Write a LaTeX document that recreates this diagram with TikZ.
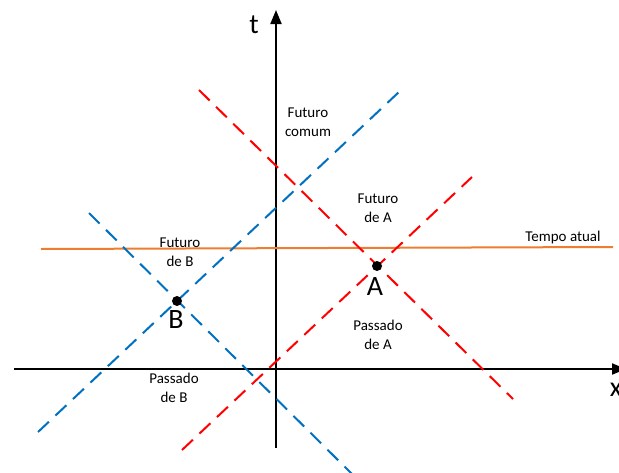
\documentclass[tikz,border=0pt]{standalone}
\usepackage{fontspec}
\setmainfont{Carlito}
\usetikzlibrary{arrows.meta}

\definecolor{conered}{RGB}{255,0,0}
\definecolor{coneblue}{RGB}{0,112,192}
\definecolor{noworange}{RGB}{237,125,49}

\begin{document}
\begin{tikzpicture}[x=1pt,y=-1pt,
	every node/.style={font=\fontsize{15}{18.5}\selectfont, align=center, inner sep=0pt},
	axis/.style={line width=2pt, -{Triangle[length=14pt,width=11pt]}},
	cone/.style={line width=2pt, dash pattern=on 15pt off 9pt},
	event/.style={circle, fill=black, minimum size=10pt},
	big/.style={font=\fontsize{28}{30}\selectfont}]
	\useasboundingbox (0,0) rectangle (619,472);
	% axes
	\coordinate (tbot) at (276,448);
	\coordinate (ttop) at (276,10);
	\coordinate (xl) at (14,369);
	\coordinate (xr) at (626,369);
	\draw[axis] (xl) -- (xr);
	\draw[axis] (tbot) -- (ttop);
	\node[big] (tlab) at (254,25) {t};
	\node[big] (xlab) at (616,390) {x};
	% present
	\coordinate (nowl) at (41,249);
	\coordinate (nowr) at (613,247);
	\draw[noworange, line width=2pt] (nowl) -- (nowr);
	\node (now) at (563,237) {Tempo atual};
	% light cones of A
	\coordinate (a1) at (199,90);
	\coordinate (a2) at (513,399);
	\coordinate (a3) at (182,450);
	\coordinate (a4) at (472,177);
	\draw[cone, conered] (a1) -- (a2);
	\draw[cone, conered] (a3) -- (a4);
	% light cones of B
	\coordinate (b1) at (38,432);
	\coordinate (b2) at (400,91);
	\coordinate (b3) at (89,213);
	\coordinate (b4) at (352,474);
	\draw[cone, coneblue] (b1) -- (b2);
	\draw[cone, coneblue] (b3) -- (b4);
	% events
	\node[event] (A) at (377,266) {};
	\node[event] (B) at (177,301) {};
	\node[big] (Alab) at (375,287) {A};
	\node[big] (Blab) at (176,320) {B};
	% regions
	\node (common) at (308,122) {Futuro\\comum};
	\node (futA) at (378,208) {Futuro\\de A};
	\node (pastA) at (378,335) {Passado\\de A};
	\node (futB) at (180,252) {Futuro\\de B};
	\node (pastB) at (174,388) {Passado\\de B};
\end{tikzpicture}
\end{document}
